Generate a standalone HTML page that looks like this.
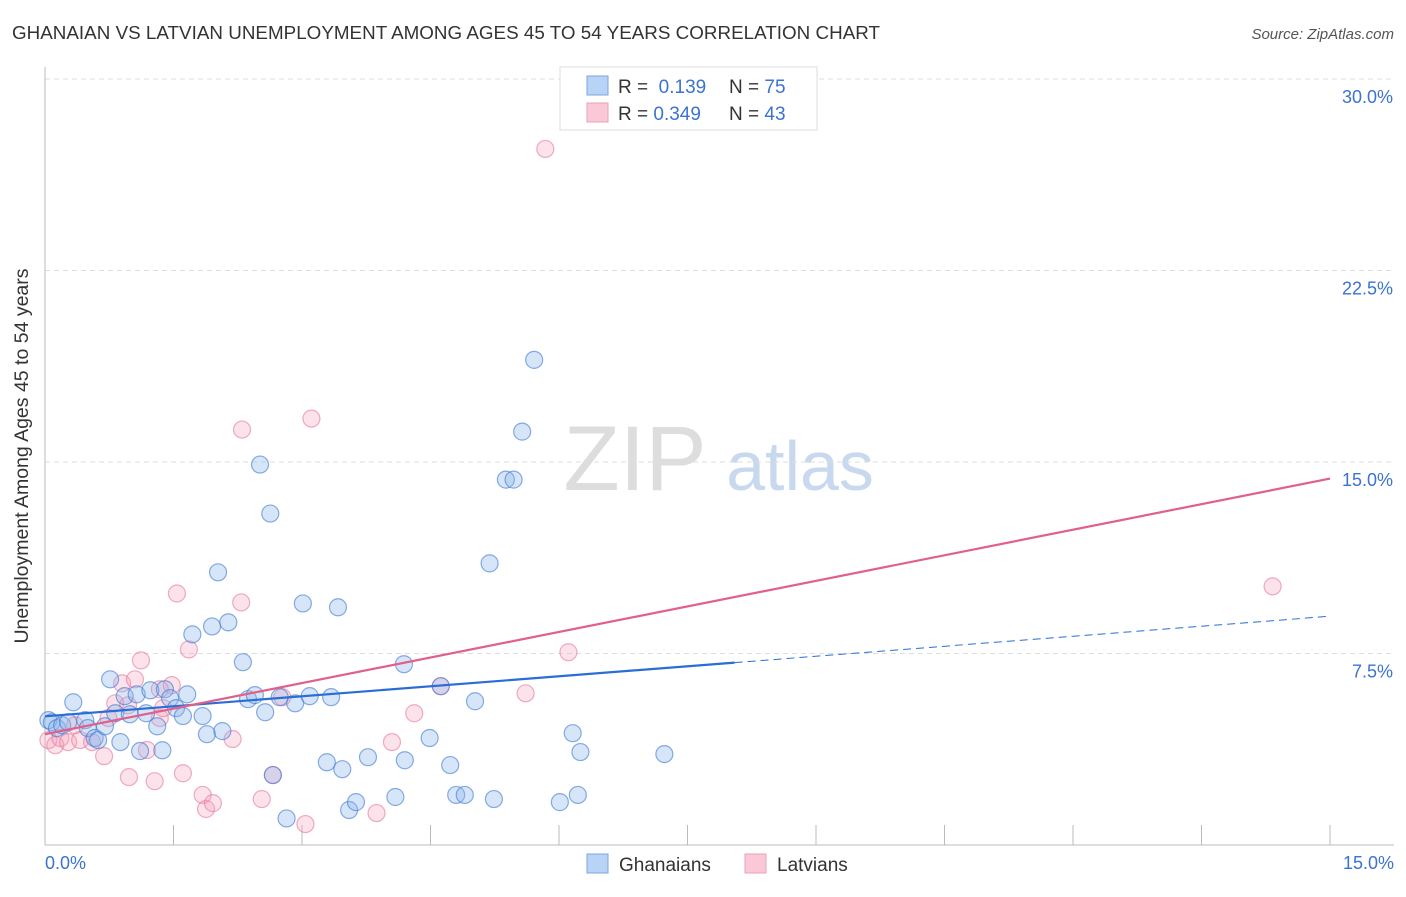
<!DOCTYPE html>
<html><head><meta charset="utf-8"><style>
body{margin:0;background:#fff;font-family:"Liberation Sans",sans-serif}
svg text{font-family:"Liberation Sans",sans-serif}
</style></head><body>
<svg id="chart" width="1406" height="892" xmlns="http://www.w3.org/2000/svg">
<text x="12" y="39" font-size="18.8" fill="#333" textLength="868">GHANAIAN VS LATVIAN UNEMPLOYMENT AMONG AGES 45 TO 54 YEARS CORRELATION CHART</text>
<text x="1394" y="39" font-size="15" fill="#555" font-style="italic" text-anchor="end">Source: ZipAtlas.com</text>
<text x="28" y="456" font-size="19.5" fill="#333" text-anchor="middle" transform="rotate(-90 28 456)">Unemployment Among Ages 45 to 54 years</text>
<text x="635" y="490" font-size="92" fill="#ddd" font-family="Liberation Serif" text-anchor="middle">ZIP</text>
<text x="800" y="490" font-size="70" fill="#c8d9ef" text-anchor="middle">atlas</text>
<g id="grid"></g><g id="marks"></g>
<g>
<rect x="560" y="67" width="257" height="63" fill="#fff" stroke="#ddd"/>
<rect x="587" y="76" width="21" height="19" fill="#b8d3f5" stroke="#7aa7e0"/>
<rect x="587" y="103" width="21" height="19" fill="#fac8d6" stroke="#eba0b8"/>
<text x="618" y="93" font-size="19" fill="#333">R = <tspan fill="#3b73d1">&#160;0.139</tspan><tspan x="729">N = </tspan><tspan fill="#3b73d1">75</tspan></text>
<text x="618" y="120" font-size="19" fill="#333">R = <tspan fill="#3b73d1">0.349</tspan><tspan x="729">N = </tspan><tspan fill="#3b73d1">43</tspan></text>
</g>
<g>
<rect x="587" y="854" width="21" height="19" fill="#b8d3f5" stroke="#7aa7e0"/>
<text x="619" y="871" font-size="19" fill="#333">Ghanaians</text>
<rect x="745" y="854" width="21" height="19" fill="#fac8d6" stroke="#eba0b8"/>
<text x="777" y="871" font-size="19" fill="#333">Latvians</text>
</g>
</svg>
<script>
const yTicks=[7.5,15,22.5,30];
const yTickLabels=["7.5%","15.0%","22.5%","30.0%"];
const xTicks=[0,1.5,3,4.5,6,7.5,9,10.5,12,13.5,15];
const blueX=[0.04,0.08,0.14,0.2,0.27,0.33,0.47,0.5,0.58,0.62,0.7,0.76,0.82,0.88,0.93,0.99,1.07,1.11,1.18,1.23,1.31,1.37,1.4,1.46,1.53,1.61,1.66,1.72,1.84,1.89,1.95,2.02,2.07,2.14,2.31,2.37,2.45,2.51,2.57,2.63,2.66,2.74,2.82,2.92,3.01,3.09,3.29,3.34,3.42,3.47,3.55,3.63,3.77,4.09,4.19,4.2,4.49,4.62,4.73,4.8,4.90,5.02,5.19,5.24,5.38,5.47,5.57,5.71,6.01,6.16,6.22,6.25,7.23];
const blueY=[4.89,4.81,4.58,4.69,4.81,5.59,4.89,4.58,4.19,4.11,4.65,6.49,5.16,4.03,5.83,5.12,5.9,3.68,5.16,6.06,4.65,3.71,6.1,5.75,5.36,5.05,5.9,8.25,5.05,4.34,8.56,10.68,4.46,8.72,7.16,5.71,5.87,14.9,5.2,12.98,2.74,5.79,1.04,5.55,9.46,5.83,3.24,5.79,9.31,2.97,1.37,1.68,3.44,1.88,7.08,3.32,4.19,6.22,3.13,1.96,1.96,5.63,11.03,1.8,14.31,14.31,16.19,19.0,1.68,4.38,1.96,3.64,3.56];
const pinkX=[0.04,0.12,0.18,0.27,0.35,0.41,0.55,0.69,0.74,0.82,0.9,0.97,1.05,1.12,1.19,1.28,1.34,1.38,1.48,1.54,1.61,1.68,1.84,1.88,1.96,2.19,2.3,2.29,2.53,2.66,2.77,3.04,3.11,3.87,4.05,4.31,4.62,5.61,5.84,6.11,14.33,0.98,1.34];
const pinkY=[4.11,3.91,4.19,4.03,4.69,4.11,4.03,3.48,4.97,5.55,6.33,5.47,6.49,7.23,3.72,2.5,4.97,5.36,6.26,9.85,2.81,7.66,1.96,1.41,1.64,4.15,16.27,9.5,1.8,2.74,5.79,0.82,16.7,1.25,4.03,5.16,6.22,5.94,27.26,7.55,10.13,2.66,6.1];
const X0=45,X1=1330,Y0=845,YTOP=79;
const sx=v=>X0+(v/15)*(X1-X0);
const sy=v=>Y0-(v/30)*(Y0-YTOP);
const NS="http://www.w3.org/2000/svg";
const grid=document.getElementById('grid'),marks=document.getElementById('marks');
function mk(tag,attrs,parent){const e=document.createElementNS(NS,tag);for(const k in attrs)e.setAttribute(k,attrs[k]);parent.appendChild(e);return e;}
yTicks.forEach((t,i)=>{
 const l=mk('line',{x1:X0,x2:1394,y1:sy(t),y2:sy(t),stroke:'#ddd','stroke-dasharray':'5,4'},grid);
 
 
 const tx=mk('text',{x:1393,y:sy(t)+24,'font-size':18,fill:'#3b73d1','text-anchor':'end'},grid);
 tx.textContent=yTickLabels[i];
 
 
});
const ax=mk('line',{x1:X0,x2:X0,y1:67,y2:Y0,stroke:'#bbb'},grid);


const bx=mk('line',{x1:X0,x2:1394,y1:Y0,y2:Y0,stroke:'#bbb'},grid);


xTicks.forEach(t=>{
 const l=mk('line',{x1:sx(t),x2:sx(t),y1:Y0,y2:Y0-20,stroke:'#bbb'},grid);
 
 
});
const xl=mk('text',{x:45,y:869,'font-size':18,fill:'#3b73d1'},grid);xl.textContent='0.0%';


const xr=mk('text',{x:1394,y:869,'font-size':18,fill:'#3b73d1','text-anchor':'end'},grid);xr.textContent='15.0%';


pinkX.forEach((x,i)=>{
 const c=mk('circle',{cx:sx(x),cy:sy(pinkY[i]),r:8.5,fill:'rgba(245,160,185,0.3)',stroke:'rgba(230,120,155,0.6)','stroke-width':1.2},marks);
 
 
});
blueX.forEach((x,i)=>{
 const c=mk('circle',{cx:sx(x),cy:sy(blueY[i]),r:8.5,fill:'rgba(140,180,235,0.35)',stroke:'rgba(60,120,210,0.6)','stroke-width':1.2},marks);
 
 
});
const blueLine=[5.04,8.96],pinkLine=[4.34,14.35],blueSolidEnd=8.05;
const bf=v=>blueLine[0]+(blueLine[1]-blueLine[0])*v/15;
let l1=mk('line',{x1:sx(0),y1:sy(bf(0)),x2:sx(blueSolidEnd),y2:sy(bf(blueSolidEnd)),stroke:'#2a6dd6','stroke-width':2.2},marks);


let l2=mk('line',{x1:sx(blueSolidEnd),y1:sy(bf(blueSolidEnd)),x2:sx(15),y2:sy(bf(15)),stroke:'#2a6dd6','stroke-width':1,'stroke-dasharray':'8,5'},marks);


let l3=mk('line',{x1:sx(0),y1:sy(pinkLine[0]),x2:sx(15),y2:sy(pinkLine[1]),stroke:'#e0608a','stroke-width':2.2},marks);


</script>
</body></html>
